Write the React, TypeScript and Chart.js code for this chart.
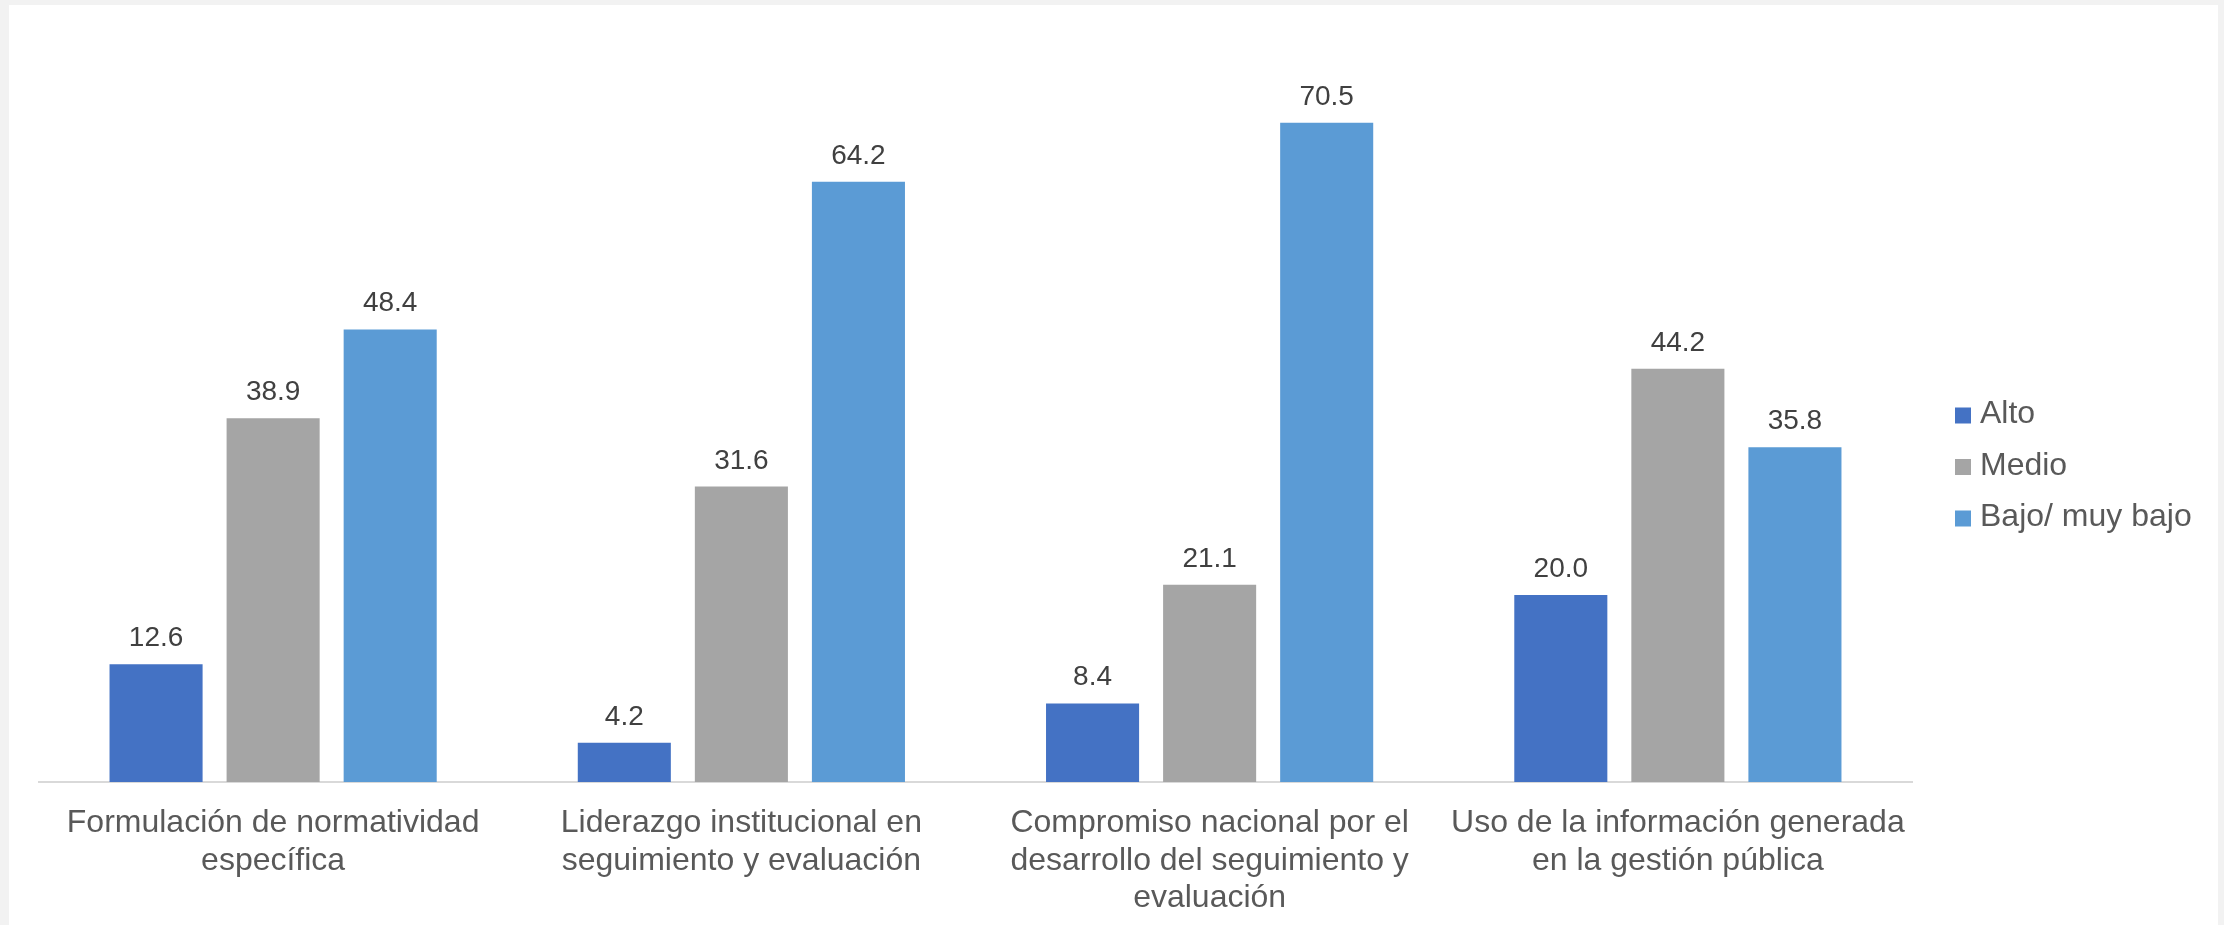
import React, { useEffect, useRef } from "react";
import { Chart, registerables } from "chart.js";

Chart.register(...registerables);

const categories: string[][] = [
  ["Formulación de normatividad", "específica"],
  ["Liderazgo institucional en", "seguimiento y evaluación"],
  ["Compromiso nacional por el", "desarrollo del seguimiento y", "evaluación"],
  ["Uso de la información generada", "en la gestión pública"],
];
const seriesNames = ["Alto", "Medio", "Bajo/ muy bajo"];
const alto = [12.6, 4.2, 8.4, 20.0];
const medio = [38.9, 31.6, 21.1, 44.2];
const bajo = [48.4, 64.2, 70.5, 35.8];
const colors = ["#4472C4", "#A5A5A5", "#5B9BD5"];

const FONT = "'Liberation Sans', Arial, sans-serif";

const dataLabelPlugin = {
  id: "dataLabels",
  afterDatasetsDraw(chart: any) {
    const ctx = chart.ctx;
    ctx.save();
    ctx.font = `28px ${FONT}`;
    ctx.fillStyle = "#404040";
    ctx.textAlign = "center";
    ctx.textBaseline = "alphabetic";
    chart.data.datasets.forEach((ds: any, i: number) => {
      const meta = chart.getDatasetMeta(i);
      meta.data.forEach((el: any, j: number) => {
        ctx.fillText(Number(ds.data[j]).toFixed(1), el.x, el.y - 18);
      });
    });
    ctx.restore();
  },
};

const legendPlugin = {
  id: "customLegend",
  afterDraw(chart: any) {
    const ctx = chart.ctx;
    ctx.save();
    ctx.font = `32px ${FONT}`;
    ctx.textBaseline = "middle";
    ctx.textAlign = "left";
    const n = chart.data.datasets.length;
    const spacing = 51.5;
    const cy = 466;
    chart.data.datasets.forEach((ds: any, i: number) => {
      const y = cy + (i - (n - 1) / 2) * spacing;
      ctx.fillStyle = ds.backgroundColor;
      ctx.fillRect(1955, y - 7, 16, 16);
      ctx.fillStyle = "#595959";
      ctx.fillText(ds.label, 1980, y);
    });
    ctx.restore();
  },
};

export default function App() {
  const ref = useRef<HTMLCanvasElement | null>(null);
  useEffect(() => {
    if (!ref.current) return;
    const chart = new Chart(ref.current, {
      type: "bar",
      data: {
        labels: categories,
        datasets: [alto, medio, bajo].map((d, i) => ({
          label: seriesNames[i],
          data: d,
          backgroundColor: colors[i],
          categoryPercentage: 0.75,
          barPercentage: 0.795,
        })),
      },
      options: {
        animation: false,
        responsive: false,
        layout: { padding: { left: 39, right: 312, top: 34, bottom: 0 } },
        plugins: { legend: { display: false }, tooltip: { enabled: false } },
        scales: {
          y: { display: false, min: 0, max: 80 },
          x: {
            afterFit: (scale: any) => {
              scale.height = 143;
            },
            grid: { display: false, drawTicks: false, tickLength: 0 },
            border: { display: true, color: "#D9D9D9", width: 2 },
            ticks: {
              font: { family: FONT, size: 32, lineHeight: 1.16 },
              color: "#595959",
              padding: 23,
              maxRotation: 0,
              autoSkip: false,
            },
          },
        },
      },
      plugins: [dataLabelPlugin, legendPlugin],
    });
    return () => chart.destroy();
  }, []);

  return (
    <div style={{ position: "fixed", left: 0, top: 0, width: 2224, height: 925, background: "#F2F2F2", overflow: "hidden" }}>
      <div style={{ position: "absolute", left: 9, top: 5, width: 2209, height: 925, background: "#FFFFFF" }} />
      <canvas ref={ref} width={2224} height={925} style={{ position: "absolute", left: 0, top: 0, width: 2224, height: 925 }} />
    </div>
  );
}
